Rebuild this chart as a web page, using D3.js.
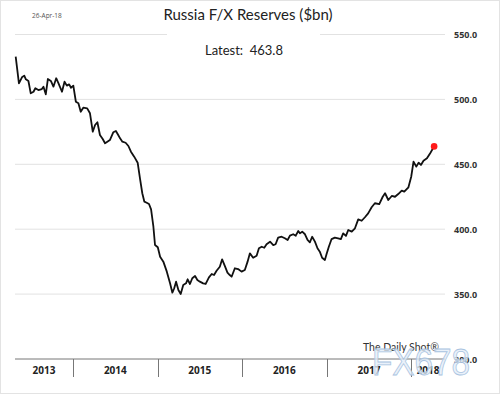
<!DOCTYPE html>
<html><head><meta charset="utf-8">
<script src="https://cdn.jsdelivr.net/npm/d3@7"></script>
<style>body{margin:0;background:#fff}svg{display:block}</style>
</head><body><svg id="c" width="500" height="398"></svg>
<script>
const dates = ["2013-04-28","2013-05-12","2013-05-25","2013-06-04","2013-06-11","2013-06-22","2013-07-02","2013-07-14","2013-07-22","2013-08-04",
"2013-08-19","2013-08-26","2013-09-05","2013-09-14","2013-09-27","2013-10-08","2013-10-20","2013-10-30","2013-11-14","2013-11-25",
"2013-12-05","2013-12-15","2013-12-23","2014-01-02","2014-01-13","2014-01-24","2014-02-03","2014-02-14","2014-03-03","2014-03-15",
"2014-03-27","2014-04-06","2014-04-16","2014-04-27","2014-05-09","2014-05-19","2014-05-29","2014-06-09","2014-06-24","2014-07-05",
"2014-07-15","2014-07-23","2014-08-02","2014-08-16","2014-08-28","2014-09-08","2014-09-22","2014-10-07","2014-10-17","2014-10-27",
"2014-11-05","2014-11-15","2014-11-25","2014-12-04","2014-12-14","2014-12-21","2015-01-02","2015-01-12","2015-01-26","2015-02-10",
"2015-02-24","2015-03-06","2015-03-14","2015-03-22","2015-04-01","2015-04-11","2015-04-22","2015-05-04","2015-05-11","2015-05-21",
"2015-05-31","2015-06-12","2015-06-22","2015-07-03","2015-07-17","2015-07-28","2015-08-11","2015-08-23","2015-09-02","2015-09-13",
"2015-09-27","2015-10-07","2015-10-19","2015-10-30","2015-11-09","2015-11-17","2015-12-01","2015-12-15","2015-12-30","2016-01-13",
"2016-01-25","2016-02-04","2016-02-18","2016-03-04","2016-03-14","2016-03-26","2016-04-06","2016-04-16","2016-05-01","2016-05-15",
"2016-05-25","2016-06-05","2016-06-20","2016-07-04","2016-07-16","2016-07-26","2016-08-09","2016-08-20","2016-08-31","2016-09-07",
"2016-09-17","2016-09-29","2016-10-10","2016-10-20","2016-10-30","2016-11-11","2016-11-22","2016-12-02","2016-12-12","2016-12-24",
"2016-12-31","2017-01-10","2017-01-22","2017-02-05","2017-02-19","2017-03-03","2017-03-13","2017-03-25","2017-04-04","2017-04-19",
"2017-05-03","2017-05-17","2017-06-01","2017-06-15","2017-06-29","2017-07-14","2017-07-28","2017-08-16","2017-08-31","2017-09-10",
"2017-09-24","2017-10-09","2017-10-23","2017-11-06","2017-11-21","2017-12-02","2017-12-20","2018-01-01","2018-01-11","2018-01-23",
"2018-02-02","2018-02-12","2018-02-23","2018-03-10","2018-03-24","2018-04-10"];
const reserves = [532.9,512.4,517,518.3,515.5,514.2,504.7,505.9,508.6,507.2,
508,509.8,503.9,515.7,514.2,509.8,516.3,512.4,505.9,513.6,
510.6,511.6,509,510.6,498.2,497,490.5,493.6,493.1,489.3,
475.1,480.3,482.4,472.6,469.5,466.2,467.4,468.7,474.7,475.7,
472.6,470,467.4,466.6,464.1,459.7,455.9,451.2,439.2,427.7,
421.2,420.4,419.4,415.3,401.9,387.8,386.1,378.8,375,367.3,
358.3,351.1,354.5,359.6,353.2,350.1,357,358.3,361.4,357.8,
362.2,363.9,360.9,359.6,358.3,357.8,362.9,365.5,364.7,368,
371.1,376.8,371.6,366.5,364.7,363.4,369.9,369.3,367.3,368.6,
375,381.4,378,379.6,385.3,386.5,385.7,388.4,390.4,387.8,
388.4,393.5,394.2,393,391.7,395,396.1,395,398.6,396.8,
398.1,396.1,391.7,389.9,394.2,390.4,385.3,382.7,378,376.3,
380.7,386.5,392.4,393.5,393,392.4,396.8,394.8,399.4,398.1,
400.7,407.6,406.5,409.2,412.2,416.9,420,419.4,425,427.7,
422.5,425.6,425,427.1,429.7,428.9,432.3,440.4,452,448.2,
451.2,449.5,452.8,454.6,458.5,463.8];
const yTicks = [300,350,400,450,500,550];
const years = [2013,2014,2015,2016,2017,2018];
const titleText = "Russia F/X Reserves ($bn)";
const dateText = "26-Apr-18";
const latestLabel = "Latest:";
const latestValue = "463.8";
const sourceText = "The Daily Shot\u00AE";

const parse = d3.timeParse("%Y-%m-%d");
const data = dates.map((d,i)=>({date:parse(d), v:reserves[i]}));
const svg = d3.select("#c");
const L=15, R=445, T=34.5, B=359;
const x = d3.scaleTime().domain([new Date(2013,3,25), new Date(2018,4,27)]).range([L,R]);
const y = d3.scaleLinear().domain([300,550]).range([B,T]);

// frame
svg.append("rect").attr("x",0.5).attr("y",0.5).attr("width",499).attr("height",393)
  .attr("fill","none").attr("stroke","#e3e3e3");

// gridlines
yTicks.filter(t=>t>300).forEach(t=>{
  if (t===550) {
    svg.append("line").attr("x1",L).attr("x2",167).attr("y1",y(t)).attr("y2",y(t)).attr("stroke","#e2e2e2").attr("stroke-width",1);
    svg.append("line").attr("x1",320).attr("x2",R).attr("y1",y(t)).attr("y2",y(t)).attr("stroke","#e2e2e2").attr("stroke-width",1);
  } else {
    svg.append("line").attr("x1",L).attr("x2",R).attr("y1",y(t)).attr("y2",y(t)).attr("stroke","#e2e2e2").attr("stroke-width",1);
  }
});

// y labels (right)
const yAxis = d3.axisRight(y).tickValues(yTicks).tickFormat(d3.format(".1f")).tickSize(0).tickPadding(0);
const ya = svg.append("g").attr("transform",`translate(454,0)`).call(yAxis);
ya.select(".domain").remove();
ya.selectAll("text").attr("font-family","'Open Sans',sans-serif").attr("font-size",9).attr("font-weight","bold").attr("fill","#333").attr("dy","0.35em");

// x axis
svg.append("line").attr("x1",L).attr("x2",R).attr("y1",B).attr("y2",B).attr("stroke","#777").attr("stroke-width",1);
const bounds = years.slice(1).map(yr=>new Date(yr,0,1));
svg.selectAll(".xt").data(bounds).enter().append("line")
  .attr("x1",d=>Math.round(x(d))+0.5).attr("x2",d=>Math.round(x(d))+0.5)
  .attr("y1",B).attr("y2",377).attr("stroke","#777").attr("stroke-width",1);
svg.selectAll(".yl").data(years).enter().append("text")
  .attr("x",yr=>{const a=Math.max(x(new Date(yr,0,1)),L), b=Math.min(x(new Date(yr+1,0,1)),R); return (a+b)/2;})
  .attr("y",374).attr("text-anchor","middle")
  .attr("font-family","'Open Sans',sans-serif").attr("font-size",10).attr("font-weight","bold").attr("fill","#222")
  .text(d=>d);

// line
const line = d3.line().x(d=>x(d.date)).y(d=>y(d.v)).curve(d3.curveLinear);
svg.append("path").datum(data).attr("d",line).attr("fill","none").attr("stroke","#111").attr("stroke-width",1.8).attr("stroke-linejoin","round");
const last = data[data.length-1];
svg.append("circle").attr("cx",x(last.date)).attr("cy",y(last.v)).attr("r",3.3).attr("fill","#ff1a1a");

// texts
svg.append("text").attr("x",32).attr("y",18).attr("font-family","'Open Sans',sans-serif").attr("font-size",6.5).attr("fill","#555").text(dateText);
svg.append("text").attr("x",248).attr("y",20).attr("text-anchor","middle").attr("font-family","Lato,sans-serif").attr("font-size",15).attr("fill","#222").text(titleText);
svg.append("text").attr("x",205).attr("y",55).attr("font-family","Lato,sans-serif").attr("font-size",13).attr("fill","#222")
  .text(latestLabel + "\u00A0\u00A0" + latestValue);
svg.append("text").attr("x",363).attr("y",351).attr("font-family","Lato,sans-serif").attr("font-size",10.5).attr("fill","#333").text(sourceText);

// watermark
svg.append("text").attr("x",372).attr("y",375).attr("font-family","'Liberation Sans',sans-serif").attr("font-size",36)
  .attr("textLength",98).attr("lengthAdjust","spacingAndGlyphs")
  .attr("fill","#e4eef9").attr("fill-opacity",0.8).attr("stroke","#a9c3e0").attr("stroke-width",0.8).text("FX678");
</script></body></html>
